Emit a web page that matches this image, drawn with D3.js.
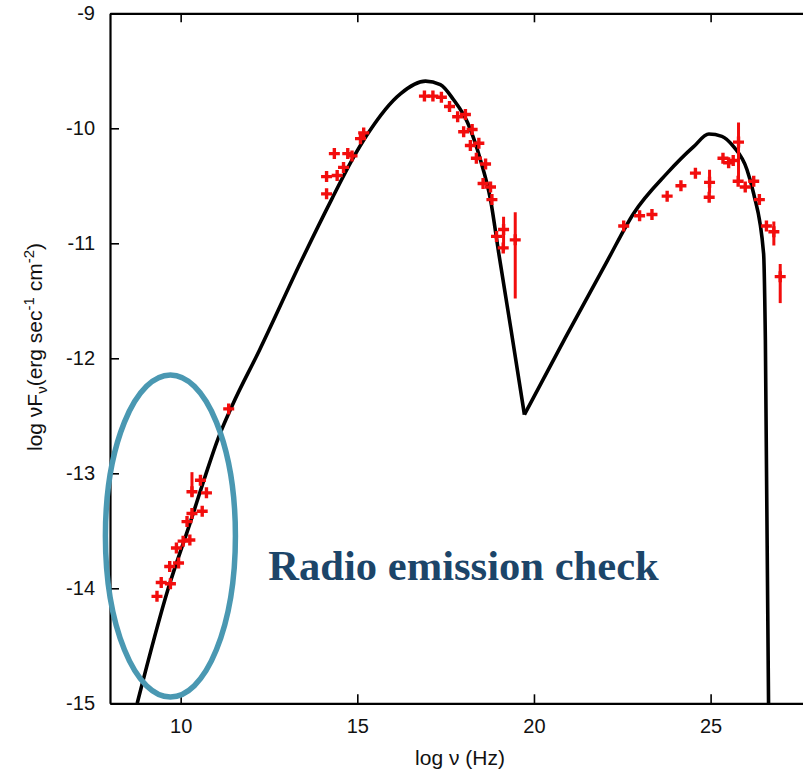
<!DOCTYPE html>
<html>
<head>
<meta charset="utf-8">
<script src="https://cdn.jsdelivr.net/npm/d3@7/dist/d3.min.js"></script>
<style>
  html, body { margin: 0; padding: 0; background: #fff; }
  svg { display: block; }
</style>
</head>
<body>
<svg id="chart" width="803" height="774"></svg>
<script>
// Model SED curve (log nu [Hz], log nuFnu [erg s^-1 cm^-2]):
// synchrotron hump up to the trough, then the inverse-Compton hump
const syncLogNu = [8.77, 9.65, 10.28, 10.70, 11.07, 11.46, 12.23, 13.42, 14.27, 14.86, 15.29, 16.22, 16.93,
  17.35, 17.72, 18.12, 18.49, 18.77, 19.00, 19.34, 19.73];
const syncLogFlux = [-15.00, -14.00, -13.42, -13.02, -12.69, -12.41, -11.93, -11.15, -10.62, -10.27, -10.05, -9.70, -9.59,
  -9.62, -9.75, -9.95, -10.28, -10.62, -11.08, -11.73, -12.49];
const icLogNu = [19.73, 20.89, 22.08, 22.82, 23.77, 24.52, 24.95, 25.32, 25.65, 26.03, 26.22, 26.50, 26.55, 26.64];
const icLogFlux = [-12.49, -11.82, -11.15, -10.74, -10.39, -10.16, -10.05, -10.07, -10.16, -10.36, -10.57, -11.09, -11.84, -15.00];

// Observed fluxes
const obsLogNu = [9.33, 9.45, 9.71, 9.69, 9.94, 9.88, 10.07, 10.26, 10.18, 10.32, 10.61, 10.32, 10.56, 10.73, 11.36,
  14.13, 14.13, 14.43, 14.61, 14.35, 14.73, 14.85, 15.09, 15.18,
  16.90, 17.14, 17.38, 17.61, 17.84, 18.06, 18.01, 18.25, 18.20, 18.44, 18.37, 18.63, 18.56, 18.77, 18.81,
  18.94, 19.14, 19.13, 19.47,
  22.54, 22.99, 23.34, 23.77, 24.16, 24.57, 24.97, 24.96, 25.35, 25.51, 25.64, 25.79, 25.78, 25.98, 26.22,
  26.38, 26.58, 26.79, 26.97];
const obsLogFlux = [-14.07, -13.95, -13.96, -13.81, -13.78, -13.65, -13.59, -13.58, -13.42, -13.35, -13.33, -13.16, -13.06, -13.17, -12.44,
  -10.57, -10.42, -10.41, -10.34, -10.22, -10.22, -10.24, -10.09, -10.04,
  -9.72, -9.72, -9.73, -9.81, -9.90, -9.88, -10.03, -10.01, -10.15, -10.13, -10.26, -10.31, -10.48, -10.51, -10.62,
  -10.94, -10.88, -11.04, -10.97,
  -10.85, -10.76, -10.75, -10.59, -10.50, -10.39, -10.47, -10.60, -10.26, -10.30, -10.28, -10.12, -10.46, -10.51, -10.46,
  -10.62, -10.85, -10.90, -11.29];

// Vertical error bars (only where larger than the marker)
const errLogNu = [10.32, 19.14, 19.47, 24.97, 25.79, 26.79, 26.97];
const errLow = [-13.20, -11.07, -11.48, -10.56, -10.46, -11.02, -11.52];
const errHigh = [-12.99, -10.77, -10.73, -10.36, -9.95, -10.81, -11.18];

const xTicks = [10, 15, 20, 25];
const yTicks = [-9, -10, -11, -12, -13, -14, -15];

// Highlighted region and its caption
const noteCenter = [9.71, -13.545];
const noteRadii = [1.84, 1.40];
const noteText = "Radio emission check";
const notePos = [12.48, -13.93];

const sans = "'Liberation Sans', Arial, Helvetica, sans-serif";
const svg = d3.select("#chart");
const plotLeft = 110, plotTop = 13.3, plotBottom = 703.3;
const x = d3.scaleLinear().domain([8, 28]).range([plotLeft, plotLeft + 20 * 35.33]);
const y = d3.scaleLinear().domain([-15, -9]).range([plotBottom, plotTop]);
const plotRight = x(28);

svg.append("defs").append("clipPath").attr("id", "plotclip")
  .append("rect").attr("x", plotLeft).attr("y", plotTop)
  .attr("width", plotRight - plotLeft).attr("height", plotBottom - plotTop);

// Axes with inward ticks, mirrored on top and right
const tickLen = 9;
const axisStyle = g => {
  g.select(".domain").attr("stroke", "#000").attr("stroke-width", 2.2);
  g.selectAll(".tick line").attr("stroke", "#000").attr("stroke-width", 1.6);
};
const labelStyle = g => g.selectAll(".tick text")
  .style("font-size", "20px").style("font-family", sans).attr("fill", "#111");
const plain = d => String(d);

svg.append("g").attr("transform", `translate(0,${plotBottom})`)
  .call(d3.axisBottom(x).tickValues(xTicks).tickSize(-tickLen).tickSizeOuter(0).tickPadding(16).tickFormat(plain))
  .call(axisStyle).call(labelStyle);
svg.append("g").attr("transform", `translate(0,${plotTop})`)
  .call(d3.axisTop(x).tickValues(xTicks).tickSize(-tickLen).tickSizeOuter(0).tickFormat(""))
  .call(axisStyle);
svg.append("g").attr("transform", `translate(${plotLeft},0)`)
  .call(d3.axisLeft(y).tickValues(yTicks).tickSize(-tickLen).tickSizeOuter(0).tickPadding(15).tickFormat(plain))
  .call(axisStyle).call(labelStyle);
svg.append("g").attr("transform", `translate(${plotRight},0)`)
  .call(d3.axisRight(y).tickValues(yTicks).tickSize(-tickLen).tickSizeOuter(0).tickFormat(""))
  .call(axisStyle);

// Axis titles
svg.append("text").attr("x", 460).attr("y", 765).attr("text-anchor", "middle")
  .style("font-family", sans).style("font-size", "21px").attr("fill", "#111")
  .text("log ν (Hz)");

const yTitle = svg.append("text")
  .attr("transform", "translate(42,347) rotate(-90)")
  .attr("text-anchor", "middle")
  .style("font-family", sans).style("font-size", "21px").attr("fill", "#111");
yTitle.append("tspan").text("log νF");
yTitle.append("tspan").style("font-size", "15px").attr("dy", 5).text("ν");
yTitle.append("tspan").attr("dy", -5).text("(erg sec");
yTitle.append("tspan").style("font-size", "15px").attr("dy", -8).text("-1");
yTitle.append("tspan").attr("dy", 8).text(" cm");
yTitle.append("tspan").style("font-size", "15px").attr("dy", -8).text("-2");
yTitle.append("tspan").attr("dy", 8).text(")");

const plot = svg.append("g").attr("clip-path", "url(#plotclip)");

// Model curve, drawn as two smooth branches meeting at the sharp trough
const line = d3.line().x(d => x(d[0])).y(d => y(d[1])).curve(d3.curveMonotoneX);
[[syncLogNu, syncLogFlux], [icLogNu, icLogFlux]].forEach(([nu, flux]) => {
  plot.append("path")
    .datum(d3.zip(nu, flux))
    .attr("d", line)
    .attr("fill", "none").attr("stroke", "#000").attr("stroke-width", 3.6)
    .attr("stroke-linejoin", "round");
});

// Error bars
const red = "#f20d0d";
plot.append("g").selectAll("line")
  .data(d3.range(errLogNu.length))
  .join("line")
  .attr("x1", i => x(errLogNu[i])).attr("x2", i => x(errLogNu[i]))
  .attr("y1", i => y(errLow[i])).attr("y2", i => y(errHigh[i]))
  .attr("stroke", red).attr("stroke-width", 3);

// Observation markers (+)
const arm = 5.5;
plot.append("g").selectAll("path")
  .data(d3.zip(obsLogNu, obsLogFlux))
  .join("path")
  .attr("d", d => {
    const px = x(d[0]), py = y(d[1]);
    return `M${px - arm},${py}H${px + arm}M${px},${py - arm}V${py + arm}`;
  })
  .attr("stroke", red).attr("stroke-width", 3.4).attr("fill", "none");

// Highlight ellipse and caption
svg.append("ellipse")
  .attr("cx", x(noteCenter[0])).attr("cy", y(noteCenter[1]))
  .attr("rx", x(noteCenter[0] + noteRadii[0]) - x(noteCenter[0]))
  .attr("ry", y(noteCenter[1] - noteRadii[1]) - y(noteCenter[1]))
  .attr("fill", "none").attr("stroke", "#4a98b2").attr("stroke-width", 5.5);

svg.append("text")
  .attr("x", x(notePos[0])).attr("y", y(notePos[1]))
  .style("font-family", "'Liberation Serif', 'Times New Roman', serif")
  .style("font-weight", "bold").style("font-size", "42.6px")
  .attr("fill", "#1c4569")
  .text(noteText);
</script>
</body>
</html>
